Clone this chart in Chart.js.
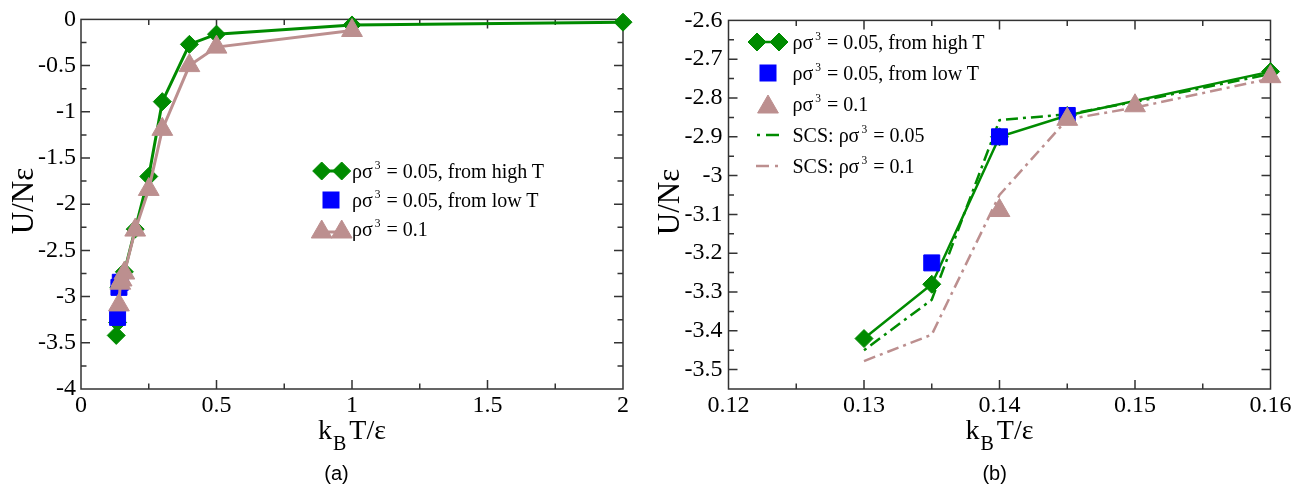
<!DOCTYPE html>
<html>
<head>
<meta charset="utf-8">
<script src="https://cdn.jsdelivr.net/npm/chart.js@4.4.0/dist/chart.umd.min.js"></script>
<style>
  html, body { margin: 0; padding: 0; background: #fff; }
  #page { position: relative; width: 1309px; height: 491px; overflow: hidden; background: #fff;
          font-family: "Liberation Serif", "Times New Roman", serif; color: #000; }
  .box { position: absolute; top: 0; height: 430px; }
  .t { position: absolute; white-space: nowrap; line-height: 1; }
  .leg { font-size: 20px; }
  .leg sup { font-size: 11.5px; vertical-align: 9px; line-height: 0; margin-left: 2px; margin-right: 1px; }
  .xt { font-size: 28px; transform: translateX(-50%); }
  .xt sub { font-size: 20px; vertical-align: -11px; line-height: 0; margin-left: 1px; margin-right: 3px; }
  .yt { font-size: 31px; transform: translate(-50%, -50%) rotate(-90deg); }
  .cap { font-family: "Liberation Sans", Arial, sans-serif; font-size: 20px; transform: translateX(-50%); }
  #legsvg { position: absolute; left: 0; top: 0; }
</style>
</head>
<body>
<div id="page">
  <div class="box" style="left:0;width:660px"><canvas id="ca"></canvas></div>
  <div class="box" style="left:660px;width:649px"><canvas id="cb"></canvas></div>

  <svg id="legsvg" width="1309" height="491">
    <!-- left legend -->
    <line x1="321.7" y1="171" x2="341.7" y2="171" stroke="#008b00" stroke-width="3"/>
    <polygon points="321.7,162 330.7,171 321.7,180 312.7,171" fill="#008b00" stroke="#008b00"/>
    <polygon points="341.7,162 350.7,171 341.7,180 332.7,171" fill="#008b00" stroke="#008b00"/>
    <rect x="323" y="192" width="16" height="16" fill="#0000ff" stroke="#0000ff"/>
    <line x1="321.7" y1="232" x2="341.7" y2="232" stroke="#bc8f8f" stroke-width="3"/>
    <polygon points="321.7,220 332.1,238 311.3,238" fill="#bc8f8f" stroke="#bc8f8f"/>
    <polygon points="341.7,220 352.1,238 331.3,238" fill="#bc8f8f" stroke="#bc8f8f"/>
    <!-- right legend -->
    <line x1="757" y1="42" x2="779" y2="42" stroke="#008b00" stroke-width="2.5"/>
    <polygon points="757,33 766,42 757,51 748,42" fill="#008b00" stroke="#008b00"/>
    <polygon points="779,33 788,42 779,51 770,42" fill="#008b00" stroke="#008b00"/>
    <rect x="760" y="65" width="16" height="16" fill="#0000ff" stroke="#0000ff"/>
    <polygon points="768,95 778.4,113 757.6,113" fill="#bc8f8f" stroke="#bc8f8f"/>
    <line x1="757" y1="135" x2="760" y2="135" stroke="#008b00" stroke-width="2.5"/>
    <line x1="766" y1="135" x2="779" y2="135" stroke="#008b00" stroke-width="2.5"/>
    <line x1="756" y1="166" x2="769" y2="166" stroke="#bc8f8f" stroke-width="2.5"/>
    <line x1="775" y1="166" x2="778" y2="166" stroke="#bc8f8f" stroke-width="2.5"/>
  </svg>

  <div class="t leg" style="left:352px;top:160.8px">ρσ<sup>3</sup> = 0.05, from high T</div>
  <div class="t leg" style="left:352px;top:189.8px">ρσ<sup>3</sup> = 0.05, from low T</div>
  <div class="t leg" style="left:352px;top:218.8px">ρσ<sup>3</sup> = 0.1</div>

  <div class="t leg" style="left:792.5px;top:32.3px">ρσ<sup>3</sup> = 0.05, from high T</div>
  <div class="t leg" style="left:792.5px;top:63.3px">ρσ<sup>3</sup> = 0.05, from low T</div>
  <div class="t leg" style="left:792.5px;top:94.3px">ρσ<sup>3</sup> = 0.1</div>
  <div class="t leg" style="left:792.5px;top:125.3px">SCS: ρσ<sup>3</sup> = 0.05</div>
  <div class="t leg" style="left:792.5px;top:156.3px">SCS: ρσ<sup>3</sup> = 0.1</div>

  <div class="t xt" style="left:352px;top:416px">k<sub>B</sub>T/ε</div>
  <div class="t xt" style="left:999.5px;top:416px">k<sub>B</sub>T/ε</div>
  <div class="t yt" style="left:22px;top:201px">U/Nε</div>
  <div class="t yt" style="left:668px;top:202px">U/Nε</div>
  <div class="t cap" style="left:336.5px;top:463px">(a)</div>
  <div class="t cap" style="left:994.7px;top:463px">(b)</div>
</div>

<script>
// ---- tick labels ----
const xTicksA = [0, 0.5, 1, 1.5, 2];
const yTicksA = [0, -0.5, -1, -1.5, -2, -2.5, -3, -3.5, -4];
const xTicksB = [0.12, 0.13, 0.14, 0.15, 0.16];
const yTicksB = [-2.6, -2.7, -2.8, -2.9, -3, -3.1, -3.2, -3.3, -3.4, -3.5];

// ---- data: rho sigma^3 = 0.05, from high T ----
const tHigh = [0.13, 0.135, 0.14, 0.145, 0.16, 0.2, 0.25, 0.3, 0.4, 0.5, 1, 2];
const uHigh = [-3.42, -3.28, -2.90, -2.845, -2.732, -2.27, -1.70, -0.89, -0.27, -0.16, -0.06, -0.03];
// ---- rho sigma^3 = 0.05, from low T ----
const tLow = [0.135, 0.14, 0.145];
const uLow = [-3.225, -2.90, -2.845];
// ---- rho sigma^3 = 0.1 ----
const tRho01 = [0.14, 0.145, 0.15, 0.16, 0.2, 0.25, 0.3, 0.4, 0.5, 1];
const uRho01 = [-3.09, -2.855, -2.82, -2.745, -2.28, -1.84, -1.19, -0.50, -0.30, -0.12];
// ---- SCS theory ----
const tScs = [0.13, 0.135, 0.14, 0.145, 0.15, 0.16];
const uScs005 = [-3.45, -3.32, -2.857, -2.842, -2.81, -2.738];
const uScs01 = [-3.478, -3.41, -3.05, -2.855, -2.825, -2.75];

const GREEN = '#008b00', BLUE = '#0000ff', PINK = '#bc8f8f';
const FONT = '"Liberation Serif", "Times New Roman", serif';

function pts(xs, ys, lo, hi) {
  const out = [];
  xs.forEach((x, i) => { if (x >= lo - 1e-9 && x <= hi + 1e-9) out.push({ x: x, y: ys[i] }); });
  return out;
}

function axis(min, max, arr, pad, fit) {
  return {
    type: 'linear', min: min, max: max,
    grid: { display: false, drawTicks: false },
    border: { display: false },
    afterBuildTicks: s => { s.ticks = arr.map(v => ({ value: v })); },
    afterFit: s => { if (s.isHorizontal()) s.height = fit; else s.width = fit; },
    ticks: {
      color: '#000', padding: pad, autoSkip: false, maxRotation: 0,
      font: { family: FONT, size: 24 },
      callback: v => String(parseFloat(Number(v).toFixed(3)))
    }
  };
}

function mids(arr) {
  const m = [];
  for (let i = 0; i < arr.length - 1; i++) m.push((arr[i] + arr[i + 1]) / 2);
  return m;
}

const frameTicks = {
  id: 'frameTicks',
  beforeDatasetsDraw(chart) {
    const ctx = chart.ctx, a = chart.chartArea, x = chart.scales.x, y = chart.scales.y;
    ctx.save();
    ctx.strokeStyle = '#333';
    ctx.lineWidth = 1.5;
    ctx.strokeRect(a.left, a.top, a.right - a.left, a.bottom - a.top);
    ctx.beginPath();
    const xMaj = x.ticks.map(t => t.value), yMaj = y.ticks.map(t => t.value);
    const doX = (vals, len) => vals.forEach(v => {
      const p = x.getPixelForValue(v);
      if (p <= a.left + 0.5 || p >= a.right - 0.5) return;
      ctx.moveTo(p, a.bottom); ctx.lineTo(p, a.bottom - len);
      ctx.moveTo(p, a.top); ctx.lineTo(p, a.top + len);
    });
    const doY = (vals, len) => vals.forEach(v => {
      const p = y.getPixelForValue(v);
      if (p <= a.top + 0.5 || p >= a.bottom - 0.5) return;
      ctx.moveTo(a.left, p); ctx.lineTo(a.left + len, p);
      ctx.moveTo(a.right, p); ctx.lineTo(a.right - len, p);
    });
    doX(xMaj, 9); doX(mids(xMaj), 5.5);
    const yMin = mids(yMaj);
    if (y.min < Math.min(...yMaj)) yMin.push(Math.min(...yMaj) - (yMaj[0] - yMaj[1]) / 2);
    doY(yMaj, 9); doY(yMin, 5.5);
    ctx.stroke();
    ctx.restore();
  }
};

function baseOptions(xs, ys, padRight) {
  return {
    responsive: true, maintainAspectRatio: false, animation: false, devicePixelRatio: 1,
    layout: { padding: { left: 0, top: 15, right: padRight, bottom: 0 } },
    plugins: { legend: { display: false }, tooltip: { enabled: false } },
    elements: { line: { tension: 0 } },
    scales: { x: xs, y: ys }
  };
}

// ---- chart (a) ----
new Chart(document.getElementById('ca'), {
  type: 'scatter',
  data: {
    datasets: [
      { data: pts(tHigh, uHigh, 0, 2), showLine: true, borderColor: GREEN, backgroundColor: GREEN,
        borderWidth: 3, pointStyle: 'rectRot', pointRadius: 9, pointBorderWidth: 1, order: 3, clip: false },
      { data: pts(tLow, uLow, 0, 2), showLine: false, borderColor: BLUE, backgroundColor: BLUE,
        pointStyle: 'rect', pointRadius: 11.3, pointBorderWidth: 1, order: 2, clip: false },
      { data: pts(tRho01, uRho01, 0, 2), showLine: true, borderColor: PINK, backgroundColor: PINK,
        borderWidth: 3, pointStyle: 'triangle', pointRadius: 12, pointBorderWidth: 1, order: 1, clip: false }
    ]
  },
  options: baseOptions(axis(0, 2, xTicksA, 2, 41), axis(-4, 0, yTicksA, 5, 81), 37),
  plugins: [frameTicks]
});

// ---- chart (b) ----
new Chart(document.getElementById('cb'), {
  type: 'scatter',
  data: {
    datasets: [
      { data: pts(tScs, uScs01, 0.12, 0.16), showLine: true, borderColor: PINK, borderWidth: 2.5,
        borderDash: [12, 5, 3, 5], pointRadius: 0, order: 6, clip: false },
      { data: pts(tScs, uScs005, 0.12, 0.16), showLine: true, borderColor: GREEN, borderWidth: 2.5,
        borderDash: [3, 5, 12, 5], pointRadius: 0, order: 5, clip: false },
      { data: pts(tHigh, uHigh, 0.12, 0.16), showLine: true, borderColor: GREEN, backgroundColor: GREEN,
        borderWidth: 2.5, pointStyle: 'rectRot', pointRadius: 9, pointBorderWidth: 1, order: 4, clip: false },
      { data: pts(tLow, uLow, 0.12, 0.16), showLine: false, borderColor: BLUE, backgroundColor: BLUE,
        pointStyle: 'rect', pointRadius: 11.3, pointBorderWidth: 1, order: 3, clip: false },
      { data: pts(tRho01, uRho01, 0.12, 0.16), showLine: false, borderColor: PINK, backgroundColor: PINK,
        pointStyle: 'triangle', pointRadius: 12, pointBorderWidth: 1, order: 2, clip: false }
    ]
  },
  options: baseOptions(axis(0.12, 0.16, xTicksB, 2, 41), axis(-3.55, -2.6, yTicksB, 6, 68.5), 38.5),
  plugins: [frameTicks]
});
</script>
</body>
</html>
